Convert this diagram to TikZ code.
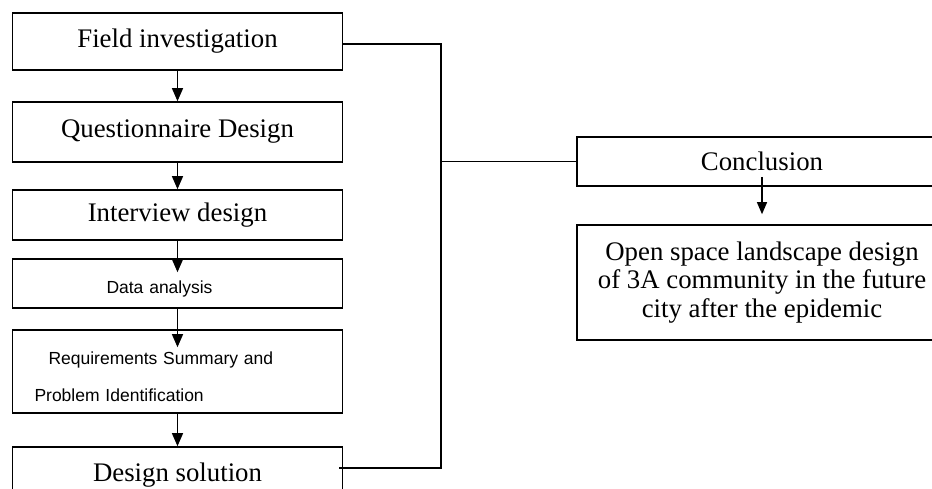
\documentclass[tikz,border=0pt]{standalone}
\usepackage{fontspec}
\setmainfont{Liberation Serif}
\setsansfont{Liberation Sans}
\usetikzlibrary{positioning,arrows.meta,calc}
\newcommand{\lowertext}[1]{\raisebox{-5pt}[\height][\depth]{#1}}
\tikzset{
  flowarrow/.style={-{Triangle[length=13pt,width=11pt]}, line width=1.2pt},
  linkline/.style={line width=1.1pt},
  mainbox/.style={draw, line width=1.6pt, inner sep=0pt, align=center, font=\fontsize{26.8}{28.5}\selectfont},
  smallbox/.style={draw, line width=1.6pt, inner ysep=0pt, align=left, font=\sffamily\fontsize{17.5}{37}\selectfont}
}
\begin{document}
\begin{tikzpicture}[x=1pt, y=-1pt]
  \useasboundingbox (0,0) rectangle (932,489);
  \clip (0,0) rectangle (932,489);
  % left column
  \node[mainbox, minimum width=330pt, minimum height=57pt] (field) at (177.5,41.5) {Field investigation};
  \node[mainbox, minimum width=330pt, minimum height=60pt] (quest) at (177.5,132) {Questionnaire Design};
  \node[mainbox, minimum width=330pt, minimum height=50pt] (inter) at (177.5,215) {Interview design};
  \node[smallbox, text width=142pt, inner xsep=94pt, minimum height=49pt] (data) at (177.5,283.5) {\lowertext{Data analysis}};
  \node[smallbox, text width=286pt, inner xsep=22pt, minimum height=83pt] (req) at (177.5,371.5)
    {\lowertext{\hspace*{14pt}Requirements Summary and}\\\lowertext{Problem Identification}};
  \node[mainbox, minimum width=330pt, minimum height=56pt] (design) at (177.5,475) {Design solution};
  % right column
  \node[mainbox, minimum width=370pt, minimum height=49pt] (concl) at (762,161.5) {Conclusion};
  \node[mainbox, minimum width=370pt, minimum height=115pt] (open) at (762,282.5)
    {Open space landscape design\\of 3A community in the future\\city after the epidemic};
  % arrows
  \draw[flowarrow] (field.south) -- (quest.north);
  \draw[flowarrow] (quest.south) -- (inter.north);
  \draw[flowarrow] (inter.south) -- ([yshift=-14pt]data.north);
  \draw[flowarrow] (data.south) -- ([yshift=-18pt]req.north);
  \draw[flowarrow] (req.south) -- (design.north);
  \draw[flowarrow, -{Triangle[length=12pt,width=10pt]}] ([yshift=-15.5pt]concl.center) -- ([yshift=10pt]open.north);
  % bus to conclusion
  \coordinate (bus) at (441,161.5);
  \draw[linkline] ([yshift=-2.5pt]field.east) -| (bus);
  \draw[linkline] ([xshift=-4pt,yshift=7pt]design.east) -| (bus);
  \draw[linkline] (bus) -- (concl.west);
\end{tikzpicture}
\end{document}
